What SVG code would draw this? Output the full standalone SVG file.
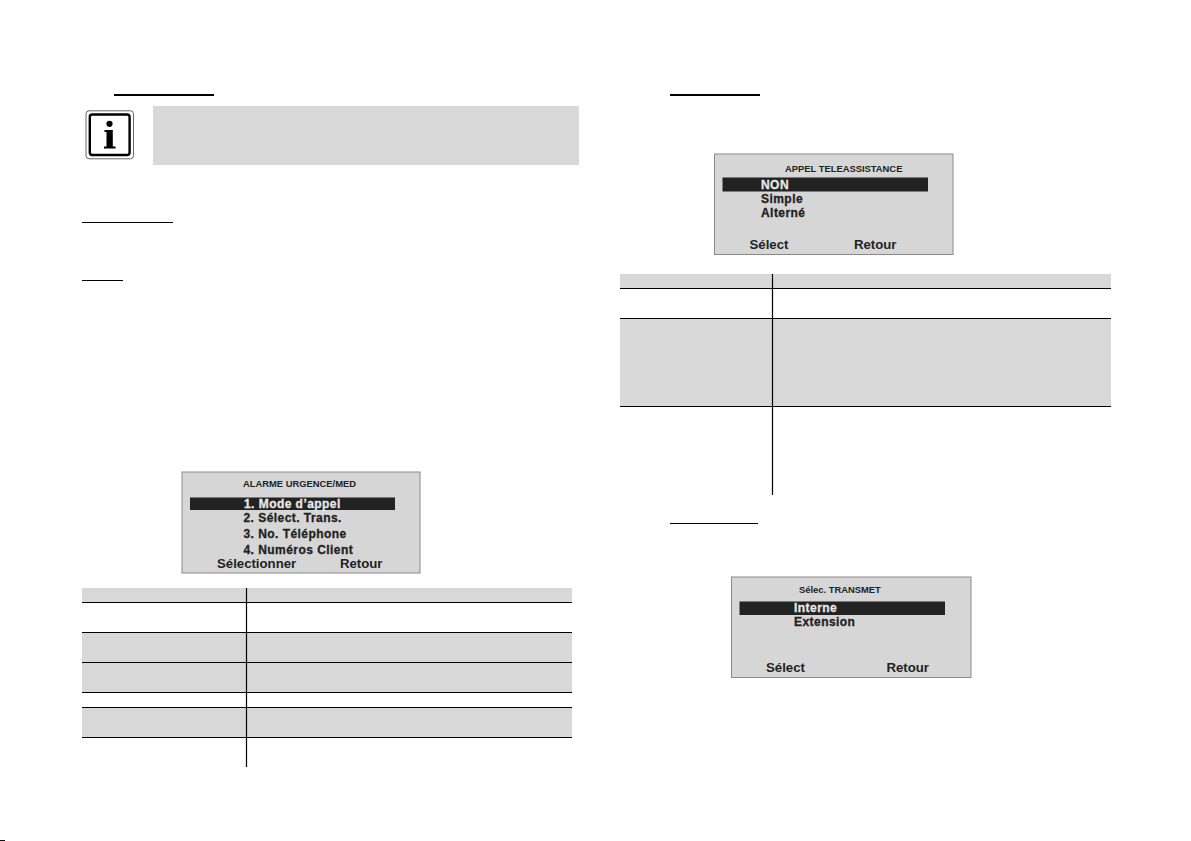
<svg xmlns="http://www.w3.org/2000/svg" width="1191" height="841" viewBox="0 0 1191 841">
<style>
.g{fill:#d8d8d8}
.l{stroke:#000;stroke-width:1;fill:none}
.t{stroke:#000;stroke-width:1.2;fill:none}
.u{stroke:#000;stroke-width:2;fill:none}
.lcd{fill:#d6d6d6;stroke:#8a8a8a;stroke-width:1}
.bar{fill:#222}
text{font-family:"Liberation Sans",Arial,sans-serif;fill:#222}
.h{font-size:9.4px;font-weight:bold}
.m{font-size:12px;font-weight:bold;letter-spacing:.45px;stroke:#222;stroke-width:.3}
.w{fill:#e8e8e8;stroke:#e8e8e8}
.s{font-size:13.2px;font-weight:bold}
</style>
<rect width="1191" height="841" fill="#fff"/>
<g id="rules">
<path class="u" d="M114 95H214M670 95H760"/>
<path class="l" d="M82 222.5H173M82 280.5H123M670 523.5H758"/>
</g>
<g id="info-note">
<rect class="g" x="153" y="106" width="426" height="59"/>
<rect x="86" y="110.800" width="47.500" height="48" rx="3" fill="#fff" stroke="#666" stroke-width="1"/>
<rect x="89.800" y="114.500" width="39.800" height="40.500" rx="2.500" fill="#fff" stroke="#000" stroke-width="2.400"/>
<circle cx="109.500" cy="123.800" r="3.100"/>
<path d="M104.500 130H112.800V146.500H115.500V148.500H104V146.500H106.500V132H104.500Z"/>
</g>
<g id="screen-alarme">
<rect class="lcd" x="182" y="472" width="238" height="101"/>
<rect class="bar" x="190" y="497.500" width="205" height="12.500"/>
<text class="h" x="243" y="487">ALARME URGENCE/MED</text>
<text class="m w" x="244" y="507.500">1. Mode d’appel</text>
<text class="m" x="243.500" y="522">2. Sélect. Trans.</text>
<text class="m" x="243.500" y="538">3. No. Téléphone</text>
<text class="m" x="243.500" y="554">4. Numéros Client</text>
<text class="s" x="217" y="568">Sélectionner</text>
<text class="s" x="340" y="568">Retour</text>
</g>
<g id="table-left">
<rect class="g" x="82" y="588" width="490" height="14"/>
<rect class="g" x="82" y="632" width="490" height="60"/>
<rect class="g" x="82" y="707" width="490" height="30"/>
<path class="t" d="M82 602.500H572M82 632.500H572M82 662.500H572M82 692.500H572M82 707.500H572M82 737.500H572M246.500 588V767"/>
</g>
<g id="screen-teleassistance">
<rect class="lcd" x="714.500" y="154" width="238.500" height="100.500"/>
<rect class="bar" x="722.500" y="177.500" width="205.500" height="14"/>
<text class="h" x="785" y="172">APPEL TELEASSISTANCE</text>
<text class="m w" x="761" y="189">NON</text>
<text class="m" x="761" y="203">Simple</text>
<text class="m" x="761" y="217">Alterné</text>
<text class="s" x="749.500" y="249">Sélect</text>
<text class="s" x="854" y="249">Retour</text>
</g>
<g id="table-right">
<rect class="g" x="620" y="274" width="491" height="14"/>
<rect class="g" x="620" y="318" width="491" height="88"/>
<path class="t" d="M620 288.500H1111M620 318.500H1111M620 406.500H1111M772.500 274V495"/>
</g>
<g id="screen-transmet">
<rect class="lcd" x="731.500" y="577" width="239.500" height="100.500"/>
<rect class="bar" x="739.500" y="601.500" width="205.500" height="13.500"/>
<text class="h" x="799" y="593">Sélec. TRANSMET</text>
<text class="m w" x="794" y="612">Interne</text>
<text class="m" x="794" y="626">Extension</text>
<text class="s" x="766" y="672">Sélect</text>
<text class="s" x="886.500" y="672">Retour</text>
</g>
<rect x="0" y="840" width="5" height="1" fill="#111"/>
</svg>
